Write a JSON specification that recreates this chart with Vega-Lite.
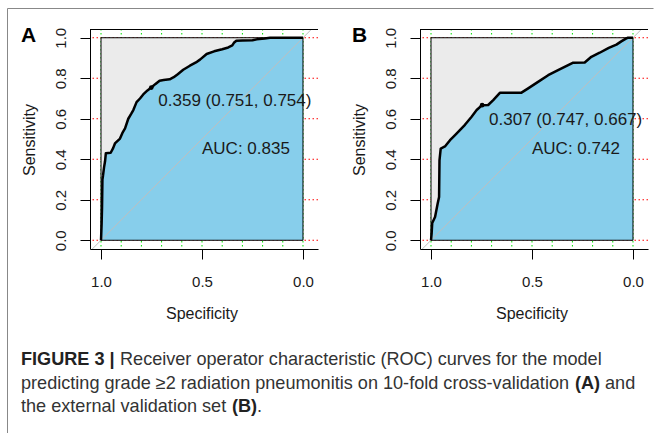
{
  "$schema": "https://vega.github.io/schema/vega-lite/v6.json",
  "padding": {"left": 7, "top": 8, "right": 0, "bottom": 0},
  "background": "white",
  "bounds": "flush",
  "spacing": 102,
  "datasets": {
    "gx": [{"v": 0}, {"v": 0.1}, {"v": 0.2}, {"v": 0.3}, {"v": 0.4}, {"v": 0.5}, {"v": 0.6}, {"v": 0.7}, {"v": 0.8}, {"v": 0.9}, {"v": 1}],
    "gy": [{"v": 0}, {"v": 0.2}, {"v": 0.4}, {"v": 0.6}, {"v": 0.8}, {"v": 1}],
    "rocA": [
      {"spec": 1.000, "sens": 0.000}, {"spec": 0.997, "sens": 0.080}, {"spec": 0.995, "sens": 0.160},
      {"spec": 0.993, "sens": 0.300}, {"spec": 0.990, "sens": 0.320}, {"spec": 0.985, "sens": 0.360},
      {"spec": 0.980, "sens": 0.390}, {"spec": 0.976, "sens": 0.430}, {"spec": 0.952, "sens": 0.432},
      {"spec": 0.940, "sens": 0.455}, {"spec": 0.931, "sens": 0.478}, {"spec": 0.906, "sens": 0.502},
      {"spec": 0.894, "sens": 0.530}, {"spec": 0.881, "sens": 0.552}, {"spec": 0.865, "sens": 0.600},
      {"spec": 0.850, "sens": 0.625}, {"spec": 0.840, "sens": 0.643}, {"spec": 0.824, "sens": 0.682},
      {"spec": 0.807, "sens": 0.700}, {"spec": 0.791, "sens": 0.720}, {"spec": 0.770, "sens": 0.740},
      {"spec": 0.751, "sens": 0.754}, {"spec": 0.730, "sens": 0.772}, {"spec": 0.710, "sens": 0.788},
      {"spec": 0.690, "sens": 0.791}, {"spec": 0.660, "sens": 0.795}, {"spec": 0.640, "sens": 0.805},
      {"spec": 0.620, "sens": 0.820}, {"spec": 0.593, "sens": 0.842}, {"spec": 0.560, "sens": 0.862},
      {"spec": 0.530, "sens": 0.878}, {"spec": 0.510, "sens": 0.892}, {"spec": 0.477, "sens": 0.920},
      {"spec": 0.440, "sens": 0.933}, {"spec": 0.400, "sens": 0.943}, {"spec": 0.370, "sens": 0.952},
      {"spec": 0.350, "sens": 0.962}, {"spec": 0.342, "sens": 0.975}, {"spec": 0.330, "sens": 0.985},
      {"spec": 0.300, "sens": 0.987}, {"spec": 0.250, "sens": 0.988}, {"spec": 0.229, "sens": 0.992},
      {"spec": 0.190, "sens": 0.996}, {"spec": 0.163, "sens": 1.000}, {"spec": 0.000, "sens": 1.000}
    ],
    "rocB": [
      {"spec": 1.000, "sens": 0.000}, {"spec": 0.997, "sens": 0.033}, {"spec": 0.994, "sens": 0.085},
      {"spec": 0.980, "sens": 0.115}, {"spec": 0.967, "sens": 0.181}, {"spec": 0.960, "sens": 0.214},
      {"spec": 0.958, "sens": 0.395}, {"spec": 0.952, "sens": 0.453}, {"spec": 0.931, "sens": 0.463},
      {"spec": 0.906, "sens": 0.494}, {"spec": 0.881, "sens": 0.519}, {"spec": 0.857, "sens": 0.544},
      {"spec": 0.832, "sens": 0.570}, {"spec": 0.799, "sens": 0.610}, {"spec": 0.774, "sens": 0.643},
      {"spec": 0.747, "sens": 0.667}, {"spec": 0.717, "sens": 0.668}, {"spec": 0.692, "sens": 0.692},
      {"spec": 0.659, "sens": 0.728}, {"spec": 0.552, "sens": 0.729}, {"spec": 0.519, "sens": 0.750},
      {"spec": 0.470, "sens": 0.782}, {"spec": 0.420, "sens": 0.815}, {"spec": 0.371, "sens": 0.840},
      {"spec": 0.321, "sens": 0.865}, {"spec": 0.296, "sens": 0.877}, {"spec": 0.239, "sens": 0.878},
      {"spec": 0.206, "sens": 0.906}, {"spec": 0.165, "sens": 0.926}, {"spec": 0.120, "sens": 0.950},
      {"spec": 0.082, "sens": 0.966}, {"spec": 0.058, "sens": 0.982}, {"spec": 0.033, "sens": 0.997},
      {"spec": 0.025, "sens": 1.000}, {"spec": 0.000, "sens": 1.000}
    ],
    "thrA": [{"spec": 0.751, "sens": 0.754, "label": "0.359 (0.751, 0.754)"}],
    "thrB": [{"spec": 0.747, "sens": 0.667, "label": "0.307 (0.747, 0.667)"}]
  },
  "hconcat": [
    {
      "width": 228,
      "height": 220,
      "layer": [
        {
          "data": {"name": "gx"},
          "mark": {"type": "rule", "stroke": "#00e000", "strokeWidth": 1, "strokeDash": [1.5, 2.5]},
          "encoding": {
            "x": {"field": "v", "type": "quantitative",
              "scale": {"domain": [-0.0743, 1.0545], "reverse": true, "nice": false, "zero": false},
              "axis": {"values": [1, 0.5, 0], "format": ".1f", "labelPadding": 15, "title": "Specificity",
                "titleX": 111.5, "titleY": 64, "titleBaseline": "middle", "titleAlign": "center"}}
          }
        },
        {
          "data": {"name": "gy"},
          "mark": {"type": "rule", "stroke": "#ff0000", "strokeWidth": 1, "strokeDash": [1.5, 2.5]},
          "encoding": {
            "y": {"field": "v", "type": "quantitative",
              "scale": {"domain": [-0.0432, 1.0432], "nice": false, "zero": false},
              "axis": {"values": [0, 0.2, 0.4, 0.6, 0.8, 1], "format": ".1f", "labelAngle": 270,
                "labelAlign": "center", "labelBaseline": "alphabetic", "labelPadding": 15,
                "title": "Sensitivity", "titleAngle": 270, "titleX": -56, "titleY": 110.5,
                "titleAlign": "center", "titleBaseline": "alphabetic"}}
          }
        },
        {
          "data": {"values": [{}]},
          "mark": {"type": "rect", "fill": "#ebebeb", "strokeWidth": 0},
          "encoding": {"x": {"datum": 1, "type": "quantitative"}, "x2": {"datum": 0}, "y": {"datum": 0, "type": "quantitative"}, "y2": {"datum": 1}}
        },
        {
          "data": {"name": "rocA"},
          "mark": {"type": "area", "fill": "#87ceeb", "strokeWidth": 0},
          "encoding": {"x": {"field": "spec", "type": "quantitative"}, "y": {"field": "sens", "type": "quantitative", "stack": null}, "y2": {"datum": 0}}
        },
        {
          "data": {"values": [{}]},
          "mark": {"type": "rule", "stroke": "#bebebe", "strokeWidth": 1, "clip": true},
          "encoding": {"x": {"datum": 1.2, "type": "quantitative"}, "x2": {"datum": -0.2}, "y": {"datum": -0.2, "type": "quantitative"}, "y2": {"datum": 1.2}}
        },
        {
          "data": {"values": [{}]},
          "mark": {"type": "rect", "fillOpacity": 0, "stroke": "#000000", "strokeWidth": 1},
          "encoding": {"x": {"datum": 1, "type": "quantitative"}, "x2": {"datum": 0}, "y": {"datum": 0, "type": "quantitative"}, "y2": {"datum": 1}}
        },
        {
          "data": {"name": "rocA"},
          "mark": {"type": "line", "stroke": "#000000", "strokeWidth": 2.5, "strokeJoin": "round"},
          "encoding": {"x": {"field": "spec", "type": "quantitative"}, "y": {"field": "sens", "type": "quantitative"}}
        },
        {
          "data": {"name": "thrA"},
          "mark": {"type": "point", "shape": "circle", "filled": true, "fill": "#000000", "size": 22, "opacity": 1},
          "encoding": {"x": {"field": "spec", "type": "quantitative"}, "y": {"field": "sens", "type": "quantitative"}}
        },
        {
          "data": {"name": "thrA"},
          "mark": {"type": "text", "align": "left", "baseline": "middle", "dx": 7, "dy": 13.5, "fontSize": 17, "fill": "#1a1a1a"},
          "encoding": {"x": {"field": "spec", "type": "quantitative"}, "y": {"field": "sens", "type": "quantitative"}, "text": {"field": "label"}}
        },
        {
          "data": {"values": [{}]},
          "mark": {"type": "text", "text": "AUC: 0.835", "align": "left", "baseline": "middle", "fontSize": 17, "fill": "#1a1a1a"},
          "encoding": {"x": {"datum": 0.5, "type": "quantitative"}, "y": {"datum": 0.449, "type": "quantitative"}}
        },
        {
          "data": {"values": [{}]},
          "mark": {"type": "rule", "stroke": "#000000", "strokeWidth": 1, "yOffset": 0.5},
          "encoding": {"y": {"datum": 1.0432, "type": "quantitative"}}
        },
        {
          "data": {"values": [{}]},
          "mark": {"type": "text", "text": "A", "align": "left", "baseline": "alphabetic", "fontSize": 21, "fontWeight": "bold", "fill": "#000000"},
          "encoding": {"x": {"value": -69}, "y": {"value": 13}}
        },
        {
          "data": {"values": [{}]},
          "mark": {"type": "rule", "stroke": "#888888", "strokeWidth": 1},
          "encoding": {"x": {"value": -82.5}, "x2": {"value": 563.5}, "y": {"value": -20.5}}
        },
        {
          "data": {"values": [{}]},
          "mark": {"type": "rule", "stroke": "#888888", "strokeWidth": 1},
          "encoding": {"x": {"value": -82.5}, "y": {"value": -20.5}, "y2": {"value": 404}}
        },
        {
          "data": {"values": [{}]},
          "mark": {"type": "text", "text": "FIGURE 3 |", "align": "left", "baseline": "middle", "font": "Liberation Sans", "fontSize": 18.1, "fontWeight": "bold", "fill": "#222222"},
          "encoding": {"x": {"value": -69}, "y": {"value": 331}}
        },
        {
          "data": {"values": [{}]},
          "mark": {"type": "text", "text": "Receiver operator characteristic (ROC) curves for the model", "align": "left", "baseline": "middle", "font": "Liberation Sans", "fontSize": 18.1, "fill": "#333333"},
          "encoding": {"x": {"value": 30}, "y": {"value": 331}}
        },
        {
          "data": {"values": [{}]},
          "mark": {"type": "text", "text": "predicting grade ≥2 radiation pneumonitis on 10-fold cross-validation", "align": "left", "baseline": "middle", "font": "Liberation Sans", "fontSize": 18.1, "fill": "#333333"},
          "encoding": {"x": {"value": -69}, "y": {"value": 355}}
        },
        {
          "data": {"values": [{}]},
          "mark": {"type": "text", "text": "(A)", "align": "left", "baseline": "middle", "font": "Liberation Sans", "fontSize": 18.1, "fontWeight": "bold", "fill": "#222222"},
          "encoding": {"x": {"value": 485}, "y": {"value": 355}}
        },
        {
          "data": {"values": [{}]},
          "mark": {"type": "text", "text": "and", "align": "left", "baseline": "middle", "font": "Liberation Sans", "fontSize": 18.1, "fill": "#333333"},
          "encoding": {"x": {"value": 515}, "y": {"value": 355}}
        },
        {
          "data": {"values": [{}]},
          "mark": {"type": "text", "text": "the external validation set", "align": "left", "baseline": "middle", "font": "Liberation Sans", "fontSize": 18.1, "fill": "#333333"},
          "encoding": {"x": {"value": -69}, "y": {"value": 378}}
        },
        {
          "data": {"values": [{}]},
          "mark": {"type": "text", "text": "(B)", "align": "left", "baseline": "middle", "font": "Liberation Sans", "fontSize": 18.1, "fontWeight": "bold", "fill": "#222222"},
          "encoding": {"x": {"value": 142}, "y": {"value": 378}}
        },
        {
          "data": {"values": [{}]},
          "mark": {"type": "text", "text": ".", "align": "left", "baseline": "middle", "font": "Liberation Sans", "fontSize": 18.1, "fill": "#333333"},
          "encoding": {"x": {"value": 167}, "y": {"value": 378}}
        }
      ]
    },
    {
      "width": 228,
      "height": 220,
      "layer": [
        {
          "data": {"name": "gx"},
          "mark": {"type": "rule", "stroke": "#00e000", "strokeWidth": 1, "strokeDash": [1.5, 2.5]},
          "encoding": {
            "x": {"field": "v", "type": "quantitative",
              "scale": {"domain": [-0.0743, 1.0545], "reverse": true, "nice": false, "zero": false},
              "axis": {"values": [1, 0.5, 0], "format": ".1f", "labelPadding": 15, "title": "Specificity",
                "titleX": 111.5, "titleY": 64, "titleBaseline": "middle", "titleAlign": "center"}}
          }
        },
        {
          "data": {"name": "gy"},
          "mark": {"type": "rule", "stroke": "#ff0000", "strokeWidth": 1, "strokeDash": [1.5, 2.5]},
          "encoding": {
            "y": {"field": "v", "type": "quantitative",
              "scale": {"domain": [-0.0432, 1.0432], "nice": false, "zero": false},
              "axis": {"values": [0, 0.2, 0.4, 0.6, 0.8, 1], "format": ".1f", "labelAngle": 270,
                "labelAlign": "center", "labelBaseline": "alphabetic", "labelPadding": 15,
                "title": "Sensitivity", "titleAngle": 270, "titleX": -56, "titleY": 110.5,
                "titleAlign": "center", "titleBaseline": "alphabetic"}}
          }
        },
        {
          "data": {"values": [{}]},
          "mark": {"type": "rect", "fill": "#ebebeb", "strokeWidth": 0},
          "encoding": {"x": {"datum": 1, "type": "quantitative"}, "x2": {"datum": 0}, "y": {"datum": 0, "type": "quantitative"}, "y2": {"datum": 1}}
        },
        {
          "data": {"name": "rocB"},
          "mark": {"type": "area", "fill": "#87ceeb", "strokeWidth": 0},
          "encoding": {"x": {"field": "spec", "type": "quantitative"}, "y": {"field": "sens", "type": "quantitative", "stack": null}, "y2": {"datum": 0}}
        },
        {
          "data": {"values": [{}]},
          "mark": {"type": "rule", "stroke": "#bebebe", "strokeWidth": 1, "clip": true},
          "encoding": {"x": {"datum": 1.2, "type": "quantitative"}, "x2": {"datum": -0.2}, "y": {"datum": -0.2, "type": "quantitative"}, "y2": {"datum": 1.2}}
        },
        {
          "data": {"values": [{}]},
          "mark": {"type": "rect", "fillOpacity": 0, "stroke": "#000000", "strokeWidth": 1},
          "encoding": {"x": {"datum": 1, "type": "quantitative"}, "x2": {"datum": 0}, "y": {"datum": 0, "type": "quantitative"}, "y2": {"datum": 1}}
        },
        {
          "data": {"name": "rocB"},
          "mark": {"type": "line", "stroke": "#000000", "strokeWidth": 2.5, "strokeJoin": "round"},
          "encoding": {"x": {"field": "spec", "type": "quantitative"}, "y": {"field": "sens", "type": "quantitative"}}
        },
        {
          "data": {"name": "thrB"},
          "mark": {"type": "point", "shape": "circle", "filled": true, "fill": "#000000", "size": 22, "opacity": 1},
          "encoding": {"x": {"field": "spec", "type": "quantitative"}, "y": {"field": "sens", "type": "quantitative"}}
        },
        {
          "data": {"name": "thrB"},
          "mark": {"type": "text", "align": "left", "baseline": "middle", "dx": 7, "dy": 15, "fontSize": 17, "fill": "#1a1a1a"},
          "encoding": {"x": {"field": "spec", "type": "quantitative"}, "y": {"field": "sens", "type": "quantitative"}, "text": {"field": "label"}}
        },
        {
          "data": {"values": [{}]},
          "mark": {"type": "text", "text": "AUC: 0.742", "align": "left", "baseline": "middle", "fontSize": 17, "fill": "#1a1a1a"},
          "encoding": {"x": {"datum": 0.5, "type": "quantitative"}, "y": {"datum": 0.449, "type": "quantitative"}}
        },
        {
          "data": {"values": [{}]},
          "mark": {"type": "rule", "stroke": "#000000", "strokeWidth": 1, "yOffset": 0.5},
          "encoding": {"y": {"datum": 1.0432, "type": "quantitative"}}
        },
        {
          "data": {"values": [{}]},
          "mark": {"type": "text", "text": "B", "align": "left", "baseline": "alphabetic", "fontSize": 21, "fontWeight": "bold", "fill": "#000000"},
          "encoding": {"x": {"value": -68}, "y": {"value": 13}}
        }
      ]
    }
  ],
  "config": {
    "view": {"stroke": null},
    "text": {"font": "Liberation Sans"},
    "axis": {
      "domainColor": "#000000", "tickColor": "#000000", "labelColor": "#1a1a1a", "titleColor": "#1a1a1a",
      "labelFont": "Liberation Sans", "titleFont": "Liberation Sans", "labelFontSize": 15, "titleFontSize": 16,
      "titleFontWeight": "normal", "grid": false, "tickSize": 10, "labelOverlap": false, "labelFlush": false,
      "domainWidth": 1, "tickWidth": 1
    }
  }
}
